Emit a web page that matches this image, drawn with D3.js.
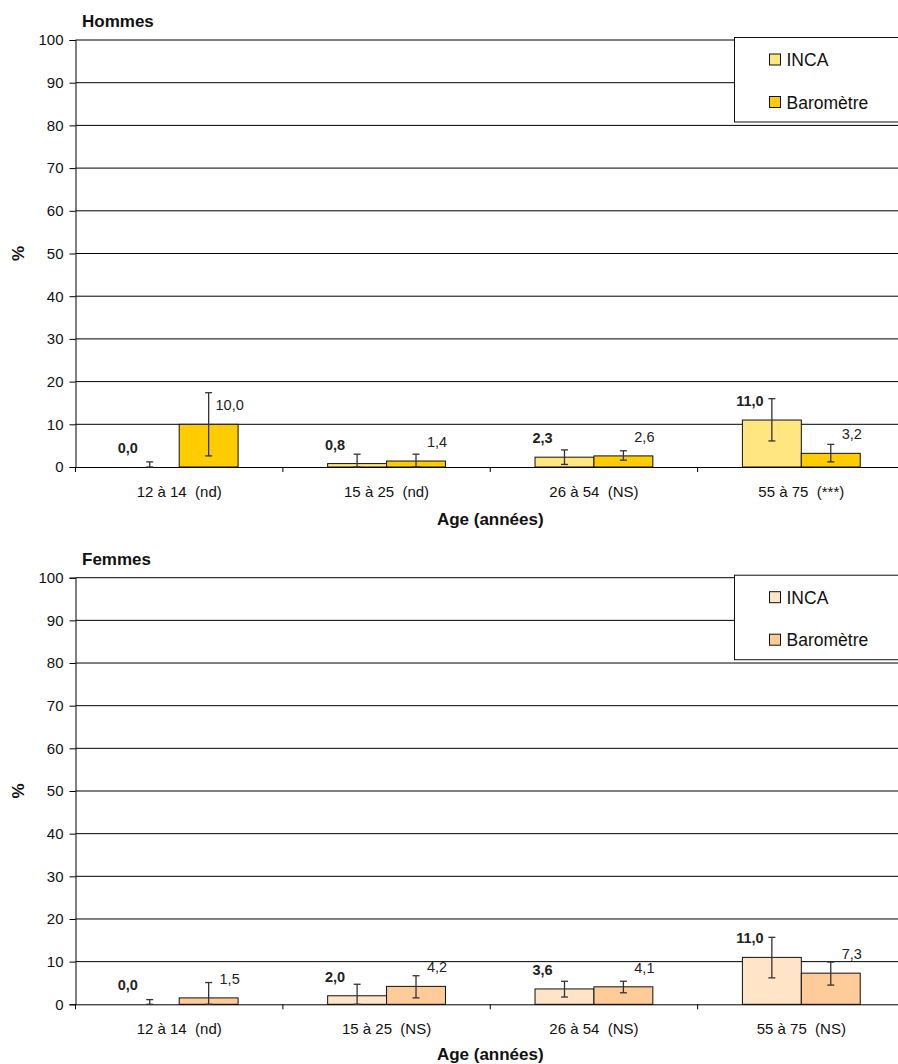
<!DOCTYPE html>
<html>
<head>
<meta charset="utf-8">
<script src="https://cdn.jsdelivr.net/npm/d3@7"></script>
<style>
  html, body { margin: 0; padding: 0; background: #fff; }
  svg { display: block; font-family: "Liberation Sans", Arial, sans-serif; }
</style>
</head>
<body>
<svg id="chart" width="898" height="1064"></svg>
<script>
// ---------- data ----------
const seriesNames = ["INCA", "Baromètre"];
const yTicks = [0, 10, 20, 30, 40, 50, 60, 70, 80, 90, 100];

const categoriesH = ["12 à 14  (nd)", "15 à 25  (nd)", "26 à 54  (NS)", "55 à 75  (***)"];
const incaH      = [0.0, 0.8, 2.3, 11.0];
const incaHLow   = [0.0, 0.0, 0.6, 6.1];
const incaHHigh  = [1.2, 3.0, 4.0, 16.0];
const baroH      = [10.0, 1.4, 2.6, 3.2];
const baroHLow   = [2.6, 0.0, 1.6, 1.2];
const baroHHigh  = [17.4, 3.0, 3.8, 5.3];

const categoriesF = ["12 à 14  (nd)", "15 à 25  (NS)", "26 à 54  (NS)", "55 à 75  (NS)"];
const incaF      = [0.0, 2.0, 3.6, 11.0];
const incaFLow   = [0.0, 0.0, 1.7, 6.2];
const incaFHigh  = [1.1, 4.7, 5.4, 15.7];
const baroF      = [1.5, 4.2, 4.1, 7.3];
const baroFLow   = [0.0, 1.5, 2.7, 4.5];
const baroFHigh  = [5.1, 6.7, 5.4, 9.9];

// ---------- drawing ----------
const svg = d3.select("#chart");
const fmt = d3.formatLocale({decimal: ",", thousands: " ", grouping: [3], currency: ["", "€"]}).format(".1f");

function panel(opts) {
  const {title, cats, inca, incaLow, incaHigh, baro, baroLow, baroHigh, top, bottom, colors, xTitleOffset} = opts;
  const left = 75.5, right = 905;
  const g = svg.append("g");

  const x = d3.scaleBand().domain(cats).range([left, right]).paddingInner(0).paddingOuter(0);
  const xs = d3.scaleBand().domain(seriesNames).range([0, x.bandwidth()]).paddingInner(0).paddingOuter(0.76);
  const y = d3.scaleLinear().domain([0, 100]).range([bottom, top]);

  // gridlines
  g.append("g").selectAll("line").data(yTicks.filter(t => t > 0)).join("line")
    .attr("x1", left).attr("x2", right)
    .attr("y1", d => y(d)).attr("y2", d => y(d))
    .attr("stroke", "#000").attr("stroke-width", 1);

  // y axis
  const ya = g.append("g").attr("transform", `translate(${left},0)`)
    .call(d3.axisLeft(y).tickValues(yTicks).tickSize(6).tickPadding(6).tickFormat(d3.format("d")));
  ya.select(".domain").attr("stroke", "#000");
  ya.selectAll(".tick line").attr("stroke", "#000");
  ya.selectAll(".tick text").attr("font-size", "15px").attr("fill", "#111")
    .attr("font-family", "Liberation Sans, Arial, sans-serif");

  // bars
  const series = [
    {name: "INCA", vals: inca, lo: incaLow, hi: incaHigh, color: colors[0], bold: true, dx: -22},
    {name: "Baromètre", vals: baro, lo: baroLow, hi: baroHigh, color: colors[1], bold: false, dx: 21}
  ];
  series.forEach(s => {
    const sg = g.append("g");
    sg.selectAll("rect").data(cats).join("rect")
      .attr("x", c => x(c) + xs(s.name))
      .attr("width", xs.bandwidth())
      .attr("y", (c, i) => y(s.vals[i]))
      .attr("height", (c, i) => y(0) - y(s.vals[i]))
      .attr("fill", s.color).attr("stroke", "#111").attr("stroke-width", 1)
      .attr("display", (c, i) => s.vals[i] > 0 ? null : "none");
  });

  // x axis baseline
  const xa = g.append("g").attr("transform", `translate(0,${bottom})`)
    .call(d3.axisBottom(x).tickSize(0).tickPadding(0).tickFormat(""));
  xa.select(".domain").attr("stroke", "#000");
  xa.selectAll(".tick").remove();
  g.append("g").selectAll("line").data(cats).join("line")
    .attr("x1", c => x(c)).attr("x2", c => x(c))
    .attr("y1", bottom).attr("y2", bottom + 5)
    .attr("stroke", "#000");
  g.append("g").selectAll("text").data(cats).join("text")
    .attr("x", c => x(c) + x.bandwidth() / 2)
    .attr("y", bottom + 29.5)
    .attr("text-anchor", "middle").attr("font-size", "15px").attr("fill", "#111")
    .style("white-space", "pre")
    .text(c => c);

  // error bars and value labels
  series.forEach(s => {
    const eg = g.append("g").attr("stroke", "#333").attr("stroke-width", 1.3);
    cats.forEach((c, i) => {
      const cx = x(c) + xs(s.name) + xs.bandwidth() / 2;
      eg.append("line").attr("x1", cx).attr("x2", cx).attr("y1", y(s.lo[i])).attr("y2", y(s.hi[i]));
      eg.append("line").attr("x1", cx - 3.5).attr("x2", cx + 3.5).attr("y1", y(s.hi[i])).attr("y2", y(s.hi[i]));
      eg.append("line").attr("x1", cx - 3.5).attr("x2", cx + 3.5).attr("y1", y(s.lo[i])).attr("y2", y(s.lo[i]));
    });
    g.append("g").selectAll("text").data(cats).join("text")
      .attr("x", c => x(c) + xs(s.name) + xs.bandwidth() / 2 + s.dx)
      .attr("y", (c, i) => y(s.vals[i]) - 14)
      .attr("text-anchor", "middle").attr("font-size", "14.5px")
      .attr("font-weight", s.bold ? "bold" : "normal").attr("fill", "#222")
      .text((c, i) => fmt(s.vals[i]));
  });

  // title
  g.append("text").attr("x", 82).attr("y", top - 12.7)
    .attr("font-size", "17px").attr("font-weight", "bold").attr("fill", "#111").text(title);
  // y title
  g.append("text").attr("transform", `translate(24,${(top + bottom) / 2}) rotate(-90)`)
    .attr("text-anchor", "middle").attr("font-size", "17px").attr("font-weight", "bold").attr("fill", "#111").text("%");
  // x title
  g.append("text").attr("x", (left + right) / 2).attr("y", bottom + xTitleOffset)
    .attr("text-anchor", "middle").attr("font-size", "17px").attr("font-weight", "bold").attr("fill", "#111")
    .text("Age (années)");

  // legend
  const lx = 734.5, ly = top - 2.5;
  const lg = g.append("g");
  lg.append("rect").attr("x", lx).attr("y", ly).attr("width", 200).attr("height", 84.5)
    .attr("fill", "#fff").attr("stroke", "#111").attr("stroke-width", 1);
  seriesNames.forEach((n, i) => {
    lg.append("rect").attr("x", lx + 35).attr("y", ly + 16.5 + i * 42.5).attr("width", 11).attr("height", 11)
      .attr("fill", series[i].color).attr("stroke", "#111").attr("stroke-width", 1);
    lg.append("text").attr("x", lx + 52).attr("y", ly + 28.5 + i * 42.5)
      .attr("font-size", "17.5px").attr("fill", "#111").text(n);
  });
}

panel({title: "Hommes", cats: categoriesH, inca: incaH, incaLow: incaHLow, incaHigh: incaHHigh,
  baro: baroH, baroLow: baroHLow, baroHigh: baroHHigh, top: 40, bottom: 467,
  colors: ["#FFE680", "#FFCC00"], xTitleOffset: 58});
panel({title: "Femmes", cats: categoriesF, inca: incaF, incaLow: incaFLow, incaHigh: incaFHigh,
  baro: baroF, baroLow: baroFLow, baroHigh: baroFHigh, top: 577.7, bottom: 1004.3,
  colors: ["#FFE4C8", "#FFCC99"], xTitleOffset: 55.5});
</script>
</body>
</html>
